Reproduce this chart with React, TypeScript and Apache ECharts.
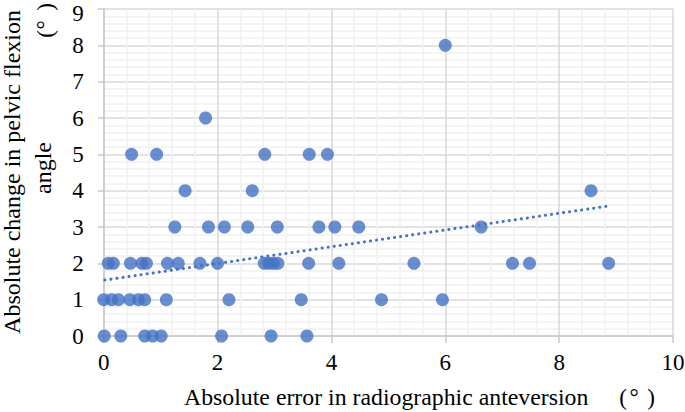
import React, { useEffect, useRef } from "react";
import * as echarts from "echarts";

// Scatter points grouped by y value (absolute change in pelvic flexion angle)
const xAtY8 = [6.0];
const xAtY6 = [1.79];
const xAtY5 = [0.49, 0.93, 2.83, 3.61, 3.93];
const xAtY4 = [1.43, 2.61, 8.56];
const xAtY3 = [1.25, 1.84, 2.12, 2.53, 3.05, 3.78, 4.06, 4.48, 6.63];
const xAtY2 = [0.08, 0.17, 0.47, 0.67, 0.75, 1.12, 1.31, 1.69, 2.0, 2.82, 2.9, 2.98, 3.06, 3.6, 4.13, 5.45, 7.18, 7.48, 8.87];
const xAtY1 = [0.0, 0.14, 0.26, 0.46, 0.61, 0.72, 1.1, 2.2, 3.47, 4.88, 5.95];
const xAtY0 = [0.01, 0.3, 0.72, 0.86, 1.01, 2.07, 2.94, 3.57];

const groups: [number, number[]][] = [
  [8, xAtY8],
  [6, xAtY6],
  [5, xAtY5],
  [4, xAtY4],
  [3, xAtY3],
  [2, xAtY2],
  [1, xAtY1],
  [0, xAtY0],
];

// Linear trend line end points
const trendX = [0.02, 8.83];
const trendY = [1.54, 3.57];

const xTicks = [0, 2, 4, 6, 8, 10];
const yTicks = [0, 1, 2, 3, 4, 5, 6, 7, 8, 9];

const xTitle = "Absolute error in radiographic anteversion";
const yTitleLine1 = "Absolute change in pelvic flexion";
const yTitleLine2 = "angle";

const FONT = "Liberation Serif";
const BLUE = "#4472C4";

export default function App() {
  const ref = useRef<HTMLDivElement>(null);
  useEffect(() => {
    if (!ref.current) return;
    const chart = echarts.init(ref.current, undefined, { renderer: "svg" });
    const points: number[][] = [];
    groups.forEach(([y, xs]) => xs.forEach((x) => points.push([x, y])));
    const trend = trendX.map((x, i) => [x, trendY[i]]);
    const yMax = yTicks[yTicks.length - 1];

    const parenStyle = { fill: "#000", font: `23px ${FONT}` };
    chart.setOption({
      animation: false,
      backgroundColor: "#fff",
      grid: { left: 103.7, right: 12, top: 9, bottom: 76, containLabel: false, outerBoundsMode: "none" },
      xAxis: {
        type: "value",
        min: xTicks[0],
        max: xTicks[xTicks.length - 1],
        interval: 2,
        splitNumber: 5,
        axisLine: { show: true, lineStyle: { color: "#c8c8c8", width: 1.5 } },
        axisTick: { show: true, length: 7, lineStyle: { color: "#c8c8c8", width: 1.5 } },
        axisLabel: { color: "#000", fontFamily: FONT, fontSize: 23, margin: 15 },
        splitLine: { show: true, lineStyle: { color: "#d9d9d9", width: 1.5 } },
        minorTick: { show: false, splitNumber: 5 },
        minorSplitLine: { show: true, lineStyle: { color: "#f0f0f0", width: 1.5 } },
      },
      yAxis: {
        type: "value",
        min: yTicks[0],
        max: yMax,
        interval: 1,
        axisLine: { show: true, lineStyle: { color: "#c8c8c8", width: 1.5 } },
        axisTick: { show: true, length: 6, lineStyle: { color: "#c8c8c8", width: 1.5 } },
        axisLabel: {
          color: "#000",
          fontFamily: FONT,
          fontSize: 23,
          margin: 20,
          formatter: (v: number) => (v === yMax ? `{top|${v}}` : `${v}`),
          rich: { top: { fontFamily: FONT, fontSize: 23, color: "#000", padding: [8, 0, 0, 0] } },
        },
        splitLine: { show: true, lineStyle: { color: "#d9d9d9", width: 1.5 } },
        minorTick: { show: false, splitNumber: 5 },
        minorSplitLine: { show: true, lineStyle: { color: "#f0f0f0", width: 1.5 } },
      },
      series: [
        {
          type: "scatter",
          data: points,
          symbol: "circle",
          symbolSize: 13,
          itemStyle: { color: BLUE },
          z: 2,
        },
        {
          type: "line",
          data: trend,
          symbol: "none",
          lineStyle: { color: BLUE, width: 3, type: [0.1, 6], cap: "round" },
          z: 3,
        },
      ],
      graphic: [
        {
          type: "text",
          left: 184,
          top: 385,
          style: { text: xTitle, fill: "#000", font: `23.8px ${FONT}` },
        },
        { type: "text", x: 623, y: 397, style: { ...parenStyle, text: "(", align: "center", verticalAlign: "middle" } },
        { type: "text", x: 634, y: 397, style: { ...parenStyle, text: "°", align: "center", verticalAlign: "middle" } },
        { type: "text", x: 651, y: 397, style: { ...parenStyle, text: ")", align: "center", verticalAlign: "middle" } },
        {
          type: "text",
          x: 12,
          y: 172,
          rotation: Math.PI / 2,
          style: { text: yTitleLine1, fill: "#000", font: `24px ${FONT}`, align: "center", verticalAlign: "middle" },
        },
        {
          type: "text",
          x: 43,
          y: 168,
          rotation: Math.PI / 2,
          style: { text: yTitleLine2, fill: "#000", font: `24px ${FONT}`, align: "center", verticalAlign: "middle" },
        },
        { type: "text", x: 45, y: 34, rotation: Math.PI / 2, style: { ...parenStyle, text: "(", align: "center", verticalAlign: "middle" } },
        { type: "text", x: 45, y: 25, rotation: Math.PI / 2, style: { ...parenStyle, text: "°", align: "center", verticalAlign: "middle" } },
        { type: "text", x: 45, y: 7, rotation: Math.PI / 2, style: { ...parenStyle, text: ")", align: "center", verticalAlign: "middle" } },
      ],
    });
    return () => chart.dispose();
  }, []);
  return (
    <div
      ref={ref}
      style={{ position: "fixed", left: 0, top: 0, width: 685, height: 412, background: "#fff" }}
    />
  );
}
